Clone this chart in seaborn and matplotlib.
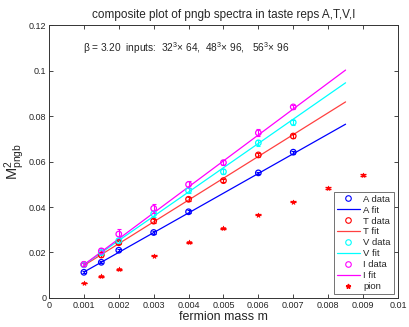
import numpy as np
import pandas as pd
import seaborn as sns
import matplotlib
matplotlib.use("Agg")
import matplotlib.pyplot as plt
from matplotlib.lines import Line2D

# ---- data ----
m_A = [0.001, 0.0015, 0.002, 0.003, 0.004, 0.006, 0.007]
A_data = [0.0113, 0.0157, 0.0210, 0.0288, 0.0379, 0.0550, 0.0641]
A_err = [0.0005, 0.0005, 0.0005, 0.0005, 0.0006, 0.0006, 0.0006]

m_TVI = [0.001, 0.0015, 0.002, 0.003, 0.004, 0.005, 0.006, 0.007]
T_data = [0.0147, 0.0189, 0.0243, 0.0338, 0.0434, 0.0516, 0.0629, 0.0712]
T_err = [0.0006, 0.0007, 0.0007, 0.0008, 0.0008, 0.0008, 0.0008, 0.0008]
V_data = [0.0146, 0.0200, 0.0252, 0.0370, 0.0472, 0.0555, 0.0682, 0.0772]
V_err = [0.0007, 0.0012, 0.0012, 0.0012, 0.0012, 0.0012, 0.0012, 0.0010]
I_data = [0.0148, 0.0207, 0.0281, 0.0394, 0.0499, 0.0595, 0.0726, 0.0840]
I_err = [0.0008, 0.0012, 0.0022, 0.0020, 0.0016, 0.0012, 0.0016, 0.0010]

m_fit = [0.001, 0.0085]
A_fit = [0.0114, 0.0764]
T_fit = [0.0143, 0.0862]
V_fit = [0.0146, 0.0946]
I_fit = [0.0146, 0.1002]

m_pion = [0.001, 0.0015, 0.002, 0.003, 0.004, 0.005, 0.006, 0.007, 0.008, 0.009]
pion = [0.0066, 0.0096, 0.0126, 0.0185, 0.0245, 0.0307, 0.0366, 0.0423, 0.0484, 0.0542]
pion_err = [0.0002, 0.0002, 0.0002, 0.0002, 0.0002, 0.0002, 0.0002, 0.0002, 0.0003, 0.0004]

xticks = [0, 0.001, 0.002, 0.003, 0.004, 0.005, 0.006, 0.007, 0.008, 0.009, 0.01]
xticklabels = ["0", "0.001", "0.002", "0.003", "0.004", "0.005", "0.006", "0.007", "0.008", "0.009", "0.01"]
yticks = [0, 0.02, 0.04, 0.06, 0.08, 0.1, 0.12]
yticklabels = ["0", "0.02", "0.04", "0.06", "0.08", "0.1", "0.12"]

sns.set_style("ticks")
plt.rcParams['font.family'] = ['Liberation Sans', 'DejaVu Sans']
plt.rcParams['mathtext.fontset'] = 'custom'
plt.rcParams['mathtext.rm'] = 'Liberation Sans'
plt.rcParams['mathtext.it'] = 'Liberation Sans'

fig = plt.figure(figsize=(4.10, 3.27), dpi=100)
ax = fig.add_axes([0.1195, 0.0887, 0.851, 0.8348])

colors = {"A": (0, 0, 1), "T": (1, 0, 0), "V": (0, 1, 1), "I": (1, 0, 1)}
fitcolors = {"A": (0, 0, 1), "T": (1, 0.25, 0.25), "V": (0, 1, 1), "I": (1, 0, 1)}

series = [("A", m_A, A_data, A_err, A_fit),
          ("T", m_TVI, T_data, T_err, T_fit),
          ("V", m_TVI, V_data, V_err, V_fit),
          ("I", m_TVI, I_data, I_err, I_fit)]

handles = []
labels = []
for name, mx, yd, ye, yf in series:
    c = colors[name]
    ax.errorbar(mx, yd, yerr=ye, fmt='none', ecolor=c, elinewidth=0.8, capsize=1.5, capthick=0.8, zorder=3)
    sns.scatterplot(x=mx, y=yd, ax=ax, marker='o', s=16, facecolors='none',
                    edgecolor=c, linewidth=0.9, zorder=4, legend=False)
    sns.lineplot(x=m_fit, y=yf, ax=ax, color=fitcolors[name], linewidth=0.9, zorder=2, legend=False)
    handles.append(Line2D([], [], linestyle='none', marker='o', markersize=4,
                          markerfacecolor='none', markeredgecolor=c, markeredgewidth=0.8))
    labels.append(f"{name} data")
    handles.append(Line2D([], [], color=fitcolors[name], linewidth=0.9))
    labels.append(f"{name} fit")

ax.errorbar(m_pion, pion, yerr=pion_err, fmt='none', ecolor='red', elinewidth=0.8, capsize=2, capthick=0.9, zorder=3)
sns.scatterplot(x=m_pion, y=pion, ax=ax, marker='*', s=12, color='red', edgecolor='red', linewidth=0.5, zorder=4, legend=False)
handles.append(Line2D([], [], linestyle='none', marker='*', markersize=3.5, color='red'))
labels.append("pion")

ax.set_xlim(0, 0.01)
ax.set_ylim(0, 0.12)
ax.set_xticks(xticks)
ax.set_xticklabels(xticklabels)
ax.set_yticks(yticks)
ax.set_yticklabels(yticklabels)
ax.tick_params(direction='in', length=3, width=0.6, labelsize=6.5, top=True, right=True, pad=2)
for s in ax.spines.values():
    s.set_linewidth(0.7)
    s.set_color('#333333')

ax.set_xlabel("fermion mass m", fontsize=9, labelpad=1)
ax.set_ylabel(r"M$^2_{\rm pngb}$", fontsize=10.5, labelpad=1)
ax.set_title("composite plot of pngb spectra in taste reps A,T,V,I", fontsize=8.5, pad=5)

ax.text(0.00097, 0.110, r"$\beta$ = 3.20  inputs:  32$^3$× 64,  48$^3$× 96,   56$^3$× 96",
        fontsize=7.3, va='center', ha='left')

leg = ax.legend(handles, labels, loc='lower right', fontsize=6.8, frameon=True, fancybox=False,
                edgecolor='#333333', handlelength=2.4, handletextpad=0.4, labelspacing=0.2,
                borderpad=0.3, borderaxespad=0.45)
leg.get_frame().set_linewidth(0.6)

fig.savefig("out.png", dpi=100)
